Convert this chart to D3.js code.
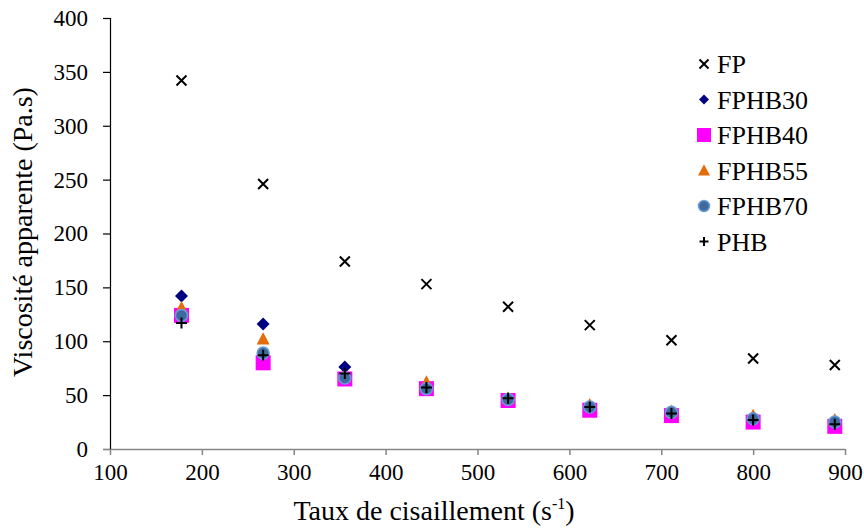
<!DOCTYPE html>
<html><head><meta charset="utf-8">
<script src="https://cdn.jsdelivr.net/npm/d3@7"></script>
<style>
html,body{margin:0;padding:0;background:#fff;}
svg text{font-family:"Liberation Serif","Times New Roman",serif !important;fill:#000;}
</style></head>
<body><svg id="c" width="864" height="530"></svg>
<script>
const shearRates = [177.8, 266.7, 355.6, 444.4, 533.3, 622.2, 711.1, 800, 888.9];
const FP     = [342, 246, 174, 153, 132, 115, 101, 84, 78];
const FPHB30 = [142, 116, 76, 57, 46, 38, 33, 27, 24];
const FPHB40 = [124, 80, 65, 56, 45, 36, 31, 25, 21];
const FPHB55 = [131, 102, 68, 62, 47, 41, 35, 31, 27];
const FPHB70 = [124, 89, 66, 56, 46, 39, 34, 28, 25];
const PHB    = [117, 87, 70, 57, 47, 39, 33, 27, 23];
const seriesNames = ["FP", "FPHB30", "FPHB40", "FPHB55", "FPHB70", "PHB"];
const xTicks = [100, 200, 300, 400, 500, 600, 700, 800, 900];
const yTicks = [0, 50, 100, 150, 200, 250, 300, 350, 400];

const svg = d3.select("#c");
const x = d3.scaleLinear().domain([100, 900]).range([110, 845]);
const y = d3.scaleLinear().domain([0, 400]).range([449, 18]);

const symX = {draw(c, s){const r=s/2; c.moveTo(-r,-r);c.lineTo(r,r);c.moveTo(-r,r);c.lineTo(r,-r);}};
const symPlus = {draw(c, s){const r=s/2; c.moveTo(-r,0);c.lineTo(r,0);c.moveTo(0,-r);c.lineTo(0,r);}};
const symDiamond = {draw(c, s){const r=s/2; c.moveTo(0,-r);c.lineTo(r,0);c.lineTo(0,r);c.lineTo(-r,0);c.closePath();}};
const symSquare = {draw(c, s){const r=s/2; c.rect(-r,-r,s,s);}};
const symTri = {draw(c, s){const r=s/2; c.moveTo(0,-r*1.05);c.lineTo(r,r*0.85);c.lineTo(-r,r*0.85);c.closePath();}};
const symCircle = {draw(c, s){const r=s/2; c.moveTo(r,0); c.arc(0,0,r,0,2*Math.PI);}};

const styles = {
  FP:     {type: symX, size: 10, legSize: 9, fill: "none", stroke: "#000", sw: 2},
  FPHB30: {type: symDiamond, size: 13, legSize: 10, fill: "#000080", stroke: "none", sw: 0},
  FPHB40: {type: symSquare, size: 15, legSize: 14, fill: "#ff00ff", stroke: "none", sw: 0},
  FPHB55: {type: symTri, size: 13, legSize: 12, fill: "#e46c0a", stroke: "none", sw: 0},
  FPHB70: {type: symCircle, size: 12, legSize: 11, fill: "#3f6a9e", stroke: "#6b9bd6", sw: 1.5},
  PHB:    {type: symPlus, size: 11, legSize: 9, fill: "none", stroke: "#000", sw: 2}
};
const seriesData = {FP, FPHB30, FPHB40, FPHB55, FPHB70, PHB};
const SERIF = "'Liberation Serif', 'Times New Roman', serif";

const gx = svg.append("g").attr("transform", "translate(0,449)")
  .call(d3.axisBottom(x).tickValues(xTicks).tickSize(6).tickPadding(9).tickFormat(d3.format("d")))
  .attr("font-family", SERIF);
gx.select(".domain").attr("stroke", "#868686").attr("stroke-width", 1.5).attr("d", "M103,0.5H845");
gx.selectAll(".tick line").attr("stroke", "#868686").attr("stroke-width", 1.5);
gx.selectAll(".tick text").style("font-family", SERIF).style("font-size", "23px").attr("dy", "0.71em");

const gy = svg.append("g").attr("transform", "translate(110,0)")
  .call(d3.axisLeft(y).tickValues(yTicks).tickSize(7).tickPadding(15).tickFormat(d3.format("d")))
  .attr("font-family", SERIF);
gy.select(".domain").attr("stroke", "#000").attr("stroke-width", 1.2).attr("d", "M0.5,18V449");
gy.selectAll(".tick line").attr("stroke", "#000").attr("stroke-width", 1.2);
gy.selectAll(".tick").filter(d => d === 0).select("line").attr("stroke", "#868686");
gy.selectAll(".tick text").style("font-family", SERIF).style("font-size", "23px");

seriesNames.forEach(name => {
  const st = styles[name];
  const sym = d3.symbol().type(st.type).size(st.size);
  svg.append("g").selectAll("path").data(seriesData[name].map((v, i) => [shearRates[i], v]))
    .join("path")
    .attr("transform", d => `translate(${x(d[0])},${y(d[1])})`)
    .attr("d", sym)
    .attr("fill", st.fill).attr("stroke", st.stroke).attr("stroke-width", st.sw);
});

const leg = svg.append("g");
seriesNames.forEach((name, i) => {
  const st = styles[name];
  const cy = 64 + i * 35.5;
  leg.append("path").attr("transform", `translate(704,${cy})`)
    .attr("d", d3.symbol().type(st.type).size(st.legSize)())
    .attr("fill", st.fill).attr("stroke", st.stroke).attr("stroke-width", st.sw);
  leg.append("text").attr("x", 717).attr("y", cy).attr("dy", "0.35em")
    .style("font-family", SERIF).style("font-size", "26px").text(name);
});

svg.append("text").attr("transform", "translate(32,232) rotate(-90)")
  .attr("text-anchor", "middle").style("font-family", SERIF).style("font-size", "28px")
  .text("Viscosité apparente (Pa.s)");
const xt = svg.append("text").attr("x", 434).attr("y", 520).attr("text-anchor", "middle")
  .style("font-family", SERIF).style("font-size", "28px");
xt.append("tspan").text("Taux de cisaillement (s");
xt.append("tspan").style("font-size", "16px").attr("dy", -11).text("-1");
xt.append("tspan").attr("dy", 11).text(")");
</script></body></html>
